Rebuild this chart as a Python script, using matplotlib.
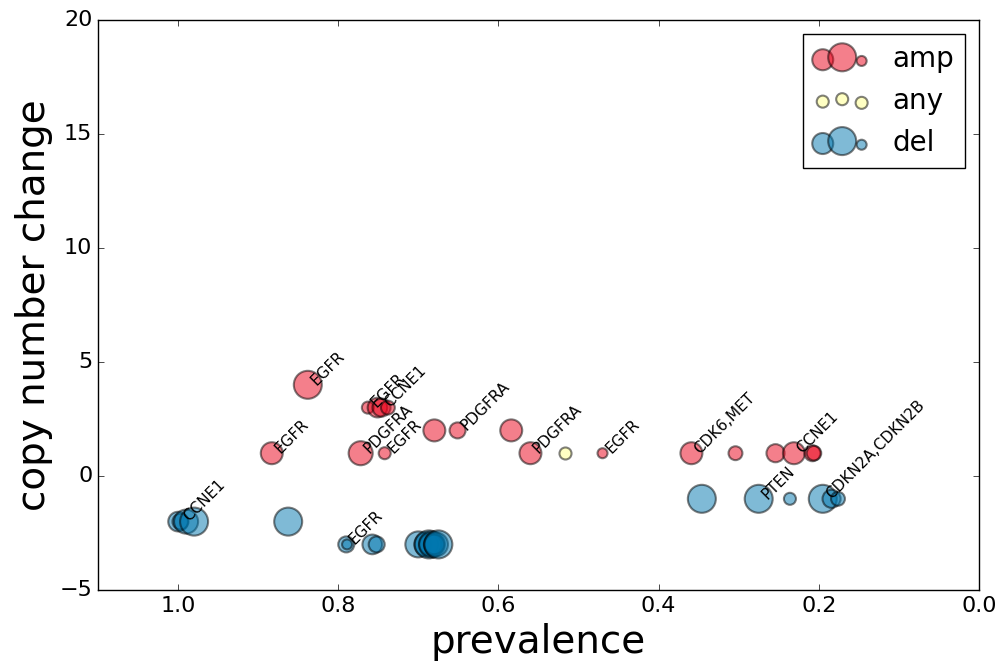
import numpy as np
import matplotlib
matplotlib.use('Agg')
import matplotlib.pyplot as plt

plt.style.use('classic')

# amplifications
amp_prev = [0.838, 0.883, 0.763, 0.751, 0.746, 0.738, 0.772, 0.742, 0.680, 0.651,
            0.584, 0.560, 0.470, 0.359, 0.304, 0.254, 0.231, 0.208, 0.206]
amp_cn = [4, 1, 3, 3, 3, 3, 1, 1, 2, 2, 2, 1, 1, 1, 1, 1, 1, 1, 1]
amp_size = [406, 250, 75, 200, 170, 100, 300, 75, 250, 133, 250, 250, 52, 250, 100, 170, 250, 133, 110]
amp_lab = ['EGFR', 'EGFR', 'EGFR', '', 'CCNE1', '', 'PDGFRA', 'EGFR', '', 'PDGFRA',
           '', 'PDGFRA', 'EGFR', 'CDK6,MET', '', '', 'CCNE1', '', '']

# any
any_prev = [0.517]
any_cn = [1]
any_size = [75]

# deletions
del_prev = [1.0, 0.997, 0.99, 0.98, 0.8625, 0.79, 0.789, 0.7575, 0.752,
            0.70, 0.69, 0.687, 0.685, 0.683, 0.68, 0.678, 0.675,
            0.346, 0.275, 0.236, 0.195, 0.184, 0.176]
del_cn = [-2, -2, -2, -2, -2, -3, -3, -3, -3,
          -3, -3, -3, -3, -3, -3, -3, -3,
          -1, -1, -1, -1, -1, -1]
del_size = [200, 133, 300, 406, 406, 133, 52, 200, 133,
            350, 300, 406, 250, 350, 200, 300, 406,
            406, 406, 75, 406, 170, 100]
del_lab = ['', 'CCNE1', '', '', '', 'EGFR', '', '', '',
           '', '', '', '', '', '', '', '',
           '', 'PTEN', '', 'CDKN2A,CDKN2B', '', '']

fig = plt.figure(figsize=(10.06, 6.7), dpi=100, facecolor='w')
ax = fig.add_axes([0.0974, 0.1194, 0.8757, 0.8507])

ax.scatter(amp_prev, amp_cn, s=amp_size, c='#eb0019', alpha=0.5, edgecolor='k', linewidth=1.5, label='amp')
ax.scatter(any_prev, any_cn, s=any_size, c='#ffff88', alpha=0.5, edgecolor='k', linewidth=1.5, label='any')
ax.scatter(del_prev, del_cn, s=del_size, c='#0077af', alpha=0.5, edgecolor='k', linewidth=1.5, label='del')

# gene names, rotated
for xs, ys, labs in [(amp_prev, amp_cn, amp_lab), (del_prev, del_cn, del_lab)]:
    for x, y, t in zip(xs, ys, labs):
        if t:
            ax.text(x, y, t, rotation=45, fontsize=11)

ax.set_xlim(1.1, 0.0)
ax.set_ylim(-5, 20)
ax.set_xticks([1.0, 0.8, 0.6, 0.4, 0.2, 0.0])
ax.set_xlabel('prevalence', fontsize=28)
ax.set_ylabel('copy number change', fontsize=28)
ax.tick_params(labelsize=16)
ax.legend(loc='upper right', fontsize=20, scatterpoints=3)

fig.savefig('out.png', dpi=100, facecolor='w')
